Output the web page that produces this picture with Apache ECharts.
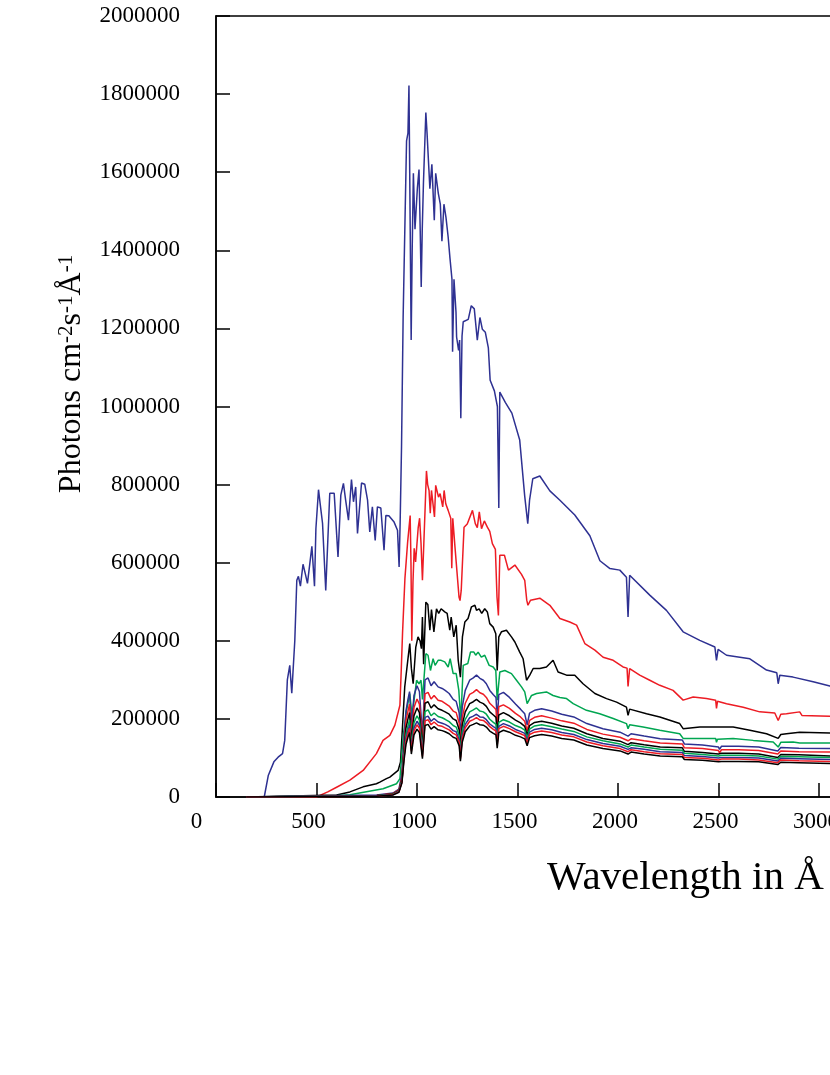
<!DOCTYPE html>
<html>
<head>
<meta charset="utf-8">
<title>Photon flux spectra</title>
<script src="https://cdn.jsdelivr.net/npm/echarts@6/dist/echarts.min.js"></script>
<style>
  html, body { margin: 0; padding: 0; background: #fff; }
  #chart { width: 830px; height: 1075px; }
</style>
</head>
<body>
<div id="chart"></div>
<script>
/* spectra: wavelength in Angstrom, photons cm^-2 s^-1 A^-1 */

var wlBlue1 = [150, 240, 260, 288, 309, 331, 342, 355, 367, 377, 392, 402, 410, 420, 433, 445, 455, 477, 490, 497, 510, 518, 530, 546, 566, 588, 607, 621, 634, 645, 659, 674, 684, 695, 704, 724, 740, 754, 765, 778, 792, 803, 820, 836, 845, 860, 886, 903, 911, 916, 923, 931, 941, 948, 955, 960, 966, 971, 976, 982, 990, 1002, 1010, 1016, 1021, 1026, 1032, 1044, 1050, 1054, 1064, 1074, 1086, 1093, 1106, 1116, 1124, 1134, 1144, 1155, 1164, 1174, 1177, 1184, 1194, 1197, 1207, 1212, 1218, 1224, 1230, 1255, 1270, 1285, 1300, 1313, 1325, 1340, 1355, 1364, 1385, 1400, 1407, 1412, 1440, 1472, 1511, 1536, 1551, 1560, 1576, 1611, 1661, 1711, 1785, 1860, 1910, 1960, 2009, 2042, 2050, 2058, 2158, 2241, 2324, 2407, 2482, 2490, 2498, 2540, 2656, 2739, 2790, 2797, 2805, 2871, 2971, 3054, 3500, 4000];
var fluxBlue1 = [0, 0, 55000, 90000, 102000, 111000, 145000, 300000, 337000, 266000, 400000, 555000, 565000, 540000, 596000, 570000, 547000, 642000, 540000, 687000, 787000, 752000, 701000, 529000, 778000, 778000, 615000, 773000, 803000, 760000, 709000, 813000, 756000, 794000, 675000, 804000, 801000, 760000, 679000, 743000, 657000, 743000, 740000, 632000, 721000, 720000, 704000, 683000, 589000, 700000, 896000, 1228000, 1496000, 1680000, 1700000, 1822000, 1822000, 1170000, 1400000, 1597000, 1454000, 1560000, 1607000, 1450000, 1306000, 1450000, 1571000, 1753000, 1700000, 1700000, 1558000, 1620000, 1477000, 1597000, 1546000, 1518000, 1423000, 1518000, 1485000, 1434000, 1380000, 1326000, 1140000, 1326000, 1242000, 1178000, 1144000, 1170000, 970000, 1180000, 1217000, 1223000, 1258000, 1250000, 1170000, 1228000, 1198000, 1190000, 1150000, 1067000, 1040000, 1000000, 740000, 1037000, 1010000, 983000, 914000, 770000, 700000, 760000, 815000, 822000, 784000, 760000, 722000, 669000, 605000, 585000, 581000, 563000, 461000, 568000, 517000, 478000, 423000, 401000, 384000, 350000, 378000, 363000, 354000, 325000, 318000, 290000, 312000, 307000, 295000, 284000, 250000, 220000];

var wlRed1 = [150, 250, 500, 556, 600, 666, 732, 798, 831, 865, 890, 915, 922, 928, 940, 953, 966, 970, 974, 980, 986, 993, 1006, 1013, 1020, 1027, 1034, 1040, 1047, 1053, 1060, 1066, 1072, 1087, 1093, 1107, 1115, 1128, 1135, 1143, 1155, 1168, 1173, 1178, 1189, 1198, 1209, 1214, 1220, 1234, 1250, 1276, 1290, 1300, 1310, 1321, 1335, 1350, 1362, 1375, 1390, 1398, 1405, 1412, 1435, 1455, 1487, 1520, 1536, 1546, 1552, 1565, 1611, 1661, 1711, 1760, 1794, 1835, 1885, 1926, 1976, 2025, 2045, 2050, 2058, 2108, 2158, 2208, 2274, 2324, 2374, 2440, 2486, 2490, 2495, 2540, 2623, 2705, 2780, 2797, 2810, 2838, 2904, 2915, 3054, 3500, 4000];
var fluxRed1 = [0, 0, 0, 13000, 25000, 43000, 68000, 111000, 145000, 158000, 184000, 235000, 330000, 419000, 560000, 650000, 721000, 600000, 400000, 550000, 637000, 602000, 690000, 714000, 650000, 555000, 650000, 734000, 835000, 800000, 785000, 727000, 785000, 717000, 798000, 768000, 777000, 743000, 785000, 751000, 734000, 714000, 586000, 714000, 640000, 640000, 512000, 503000, 529000, 691000, 699000, 734000, 700000, 690000, 730000, 687000, 707000, 691000, 680000, 649000, 634000, 512000, 465000, 619000, 619000, 581000, 594000, 570000, 555000, 504000, 491000, 504000, 509000, 491000, 457000, 448000, 440000, 393000, 376000, 358000, 350000, 333000, 330000, 283000, 329000, 312000, 299000, 286000, 273000, 248000, 256000, 252000, 248000, 227000, 245000, 239000, 230000, 218000, 215000, 196000, 212000, 213000, 218000, 209000, 207000, 195000, 180000];

var wlBlack1 = [150, 600, 666, 732, 798, 815, 848, 865, 906, 918, 930, 939, 956, 964, 972, 981, 994, 1005, 1015, 1022, 1027, 1033, 1044, 1054, 1064, 1072, 1084, 1097, 1108, 1120, 1138, 1150, 1163, 1170, 1183, 1195, 1205, 1216, 1226, 1238, 1254, 1271, 1288, 1296, 1309, 1322, 1337, 1350, 1362, 1379, 1392, 1399, 1407, 1420, 1445, 1470, 1487, 1511, 1528, 1545, 1561, 1578, 1611, 1644, 1677, 1702, 1744, 1785, 1826, 1885, 1943, 1993, 2042, 2050, 2058, 2142, 2208, 2307, 2324, 2407, 2490, 2573, 2656, 2739, 2797, 2810, 2838, 2904, 3054, 3500, 4000];
var fluxBlack1 = [0, 5000, 13000, 26000, 34000, 38000, 47000, 51000, 68000, 90000, 200000, 282000, 358000, 393000, 330000, 290000, 384000, 410000, 400000, 380000, 461000, 340000, 499000, 493000, 427000, 480000, 423000, 482000, 470000, 482000, 474000, 470000, 427000, 461000, 410000, 440000, 350000, 307000, 410000, 448000, 457000, 487000, 491000, 478000, 482000, 470000, 482000, 474000, 444000, 435000, 418000, 324000, 410000, 423000, 427000, 410000, 397000, 371000, 354000, 299000, 312000, 329000, 329000, 333000, 350000, 320000, 312000, 312000, 290000, 265000, 252000, 243000, 230000, 209000, 225000, 213000, 205000, 188000, 175000, 179000, 179000, 179000, 171000, 162000, 150000, 160000, 162000, 166000, 164000, 155000, 145000];

var wlGreen1 = [150, 600, 666, 831, 898, 915, 931, 948, 964, 975, 981, 998, 1010, 1020, 1027, 1044, 1055, 1067, 1080, 1090, 1105, 1120, 1138, 1155, 1165, 1180, 1195, 1208, 1218, 1230, 1253, 1266, 1283, 1292, 1304, 1320, 1337, 1359, 1379, 1392, 1399, 1412, 1437, 1470, 1495, 1520, 1536, 1548, 1570, 1595, 1644, 1677, 1711, 1744, 1777, 1843, 1909, 1976, 2042, 2050, 2058, 2125, 2208, 2307, 2324, 2407, 2486, 2490, 2495, 2573, 2673, 2772, 2797, 2810, 2871, 2904, 3054, 3500, 4000];
var fluxGreen1 = [0, 3000, 6000, 21000, 34000, 47000, 154000, 222000, 265000, 210000, 230000, 299000, 290000, 299000, 250000, 367000, 363000, 324000, 354000, 337000, 350000, 350000, 346000, 333000, 354000, 316000, 316000, 273000, 196000, 337000, 342000, 371000, 371000, 363000, 371000, 358000, 363000, 337000, 333000, 324000, 248000, 320000, 324000, 316000, 299000, 282000, 269000, 239000, 260000, 265000, 269000, 260000, 255000, 252000, 239000, 222000, 213000, 201000, 188000, 175000, 185000, 179000, 171000, 162000, 150000, 150000, 150000, 140000, 148000, 150000, 145000, 141000, 128000, 140000, 141000, 138000, 138000, 132000, 125000];

// the seven lower curves share one wavelength grid
var wlLow = [150, 800, 880, 910, 925, 935, 945, 955, 963, 972, 985, 1000, 1012, 1027, 1040, 1055, 1070, 1085, 1105, 1125, 1140, 1160, 1180, 1195, 1210, 1216, 1225, 1240, 1262, 1280, 1296, 1313, 1330, 1345, 1362, 1380, 1393, 1399, 1407, 1430, 1460, 1490, 1515, 1536, 1548, 1560, 1585, 1620, 1670, 1720, 1780, 1845, 1925, 2010, 2050, 2065, 2130, 2210, 2320, 2330, 2420, 2500, 2505, 2515, 2600, 2700, 2795, 2810, 2900, 3054, 3500, 4000];
var fluxBlue2 = [0, 5000, 10000, 20000, 60000, 150000, 220000, 250000, 270000, 180000, 260000, 285000, 270000, 160000, 300000, 305000, 285000, 295000, 282000, 278000, 273000, 265000, 250000, 245000, 215000, 150000, 230000, 273000, 299000, 305000, 312000, 304000, 299000, 290000, 273000, 262000, 255000, 200000, 262000, 268000, 255000, 238000, 225000, 213000, 185000, 215000, 222000, 226000, 220000, 212000, 205000, 188000, 175000, 166000, 156000, 162000, 156000, 149000, 146000, 136000, 133000, 128000, 122000, 130000, 130000, 128000, 118000, 127000, 125000, 124000, 118000, 112000];
var fluxRed2 = [0, 4000, 9000, 18000, 50000, 130000, 195000, 220000, 238000, 158000, 229000, 251000, 238000, 141000, 264000, 268000, 251000, 260000, 248000, 245000, 240000, 233000, 220000, 216000, 189000, 132000, 202000, 240000, 263000, 268000, 275000, 267000, 263000, 255000, 240000, 231000, 224000, 176000, 231000, 236000, 227000, 214000, 205000, 194000, 169000, 196000, 204000, 208000, 202000, 195000, 189000, 173000, 161000, 153000, 144000, 149000, 144000, 138000, 136000, 126000, 124000, 119000, 113000, 121000, 121000, 119000, 110000, 118000, 116000, 115000, 110000, 104000];
var fluxBlack2 = [0, 4000, 8000, 16000, 45000, 118000, 176000, 200000, 216000, 144000, 208000, 228000, 216000, 128000, 240000, 244000, 228000, 236000, 226000, 222000, 218000, 212000, 200000, 196000, 172000, 120000, 184000, 218000, 239000, 244000, 250000, 243000, 239000, 232000, 218000, 210000, 204000, 160000, 210000, 216000, 208000, 197000, 190000, 181000, 158000, 183000, 191000, 194000, 189000, 182000, 176000, 162000, 150000, 143000, 134000, 139000, 134000, 128000, 126000, 117000, 114000, 110000, 105000, 112000, 112000, 110000, 101000, 109000, 108000, 105000, 101000, 96000];
var fluxGreen2 = [0, 3000, 7000, 15000, 42000, 108000, 160000, 182000, 197000, 131000, 190000, 208000, 197000, 117000, 219000, 223000, 208000, 215000, 206000, 203000, 199000, 193000, 183000, 179000, 157000, 110000, 168000, 199000, 218000, 223000, 228000, 220000, 218000, 212000, 199000, 191000, 186000, 146000, 191000, 198000, 192000, 183000, 178000, 171000, 150000, 174000, 182000, 185000, 180000, 174000, 168000, 154000, 144000, 136000, 128000, 133000, 128000, 122000, 120000, 112000, 109000, 105000, 100000, 107000, 107000, 105000, 97000, 104000, 103000, 101000, 97000, 92000];
var fluxBlue3 = [0, 3000, 6000, 14000, 40000, 102000, 150000, 170000, 184000, 122000, 177000, 194000, 184000, 109000, 204000, 207000, 194000, 201000, 192000, 189000, 186000, 180000, 170000, 167000, 146000, 102000, 156000, 186000, 203000, 207000, 212000, 205000, 204000, 198000, 187000, 180000, 176000, 138000, 181000, 188000, 182000, 173000, 168000, 163000, 143000, 166000, 173000, 176000, 172000, 165000, 160000, 147000, 137000, 130000, 122000, 126000, 122000, 116000, 114000, 106000, 104000, 100000, 95000, 101000, 101000, 100000, 92000, 99000, 98000, 96000, 92000, 87000];
var fluxRed3 = [0, 2000, 6000, 13000, 38000, 98000, 143000, 163000, 176000, 117000, 169000, 185000, 176000, 104000, 195000, 198000, 185000, 192000, 183000, 181000, 177000, 172000, 163000, 159000, 140000, 98000, 150000, 177000, 194000, 198000, 203000, 197000, 196000, 190000, 180000, 173000, 169000, 133000, 175000, 181000, 175000, 167000, 162000, 157000, 138000, 160000, 166000, 169000, 165000, 159000, 154000, 141000, 131000, 124000, 116000, 121000, 116000, 111000, 109000, 101000, 99000, 95000, 91000, 97000, 97000, 95000, 88000, 95000, 93000, 91000, 88000, 83000];
var fluxBlack3 = [0, 2000, 5000, 12000, 36000, 92000, 134000, 153000, 165000, 110000, 159000, 174000, 165000, 98000, 183000, 186000, 174000, 180000, 172000, 170000, 167000, 162000, 153000, 150000, 131000, 92000, 140000, 167000, 182000, 186000, 190000, 185000, 184000, 179000, 169000, 163000, 159000, 125000, 165000, 171000, 166000, 158000, 154000, 149000, 131000, 152000, 157000, 160000, 156000, 150000, 146000, 133000, 124000, 118000, 110000, 115000, 110000, 105000, 103000, 96000, 94000, 90000, 86000, 91000, 91000, 90000, 83000, 89000, 88000, 86000, 83000, 79000];

var BLUE = '#2e3192', RED = '#ed1c24', BLACK = '#000000', GREEN = '#00a651';
var FONT = 'Liberation Serif';

var curves = [
    [wlBlue1, fluxBlue1, BLUE],
    [wlRed1, fluxRed1, RED],
    [wlBlack1, fluxBlack1, BLACK],
    [wlGreen1, fluxGreen1, GREEN],
    [wlLow, fluxBlue2, BLUE],
    [wlLow, fluxRed2, RED],
    [wlLow, fluxBlack2, BLACK],
    [wlLow, fluxGreen2, GREEN],
    [wlLow, fluxBlue3, BLUE],
    [wlLow, fluxRed3, RED],
    [wlLow, fluxBlack3, BLACK]
];

function pairs(wl, flux) {
    var out = [];
    for (var i = 0; i < wl.length; i++) {
        out.push([wl[i], flux[i]]);
    }
    return out;
}

var seriesList = [];
for (var k = 0; k < curves.length; k++) {
    seriesList.push({
        type: 'line',
        data: pairs(curves[k][0], curves[k][1]),
        showSymbol: false,
        symbol: 'none',
        lineStyle: { color: curves[k][2], width: 1.5 },
        itemStyle: { color: curves[k][2] },
        z: 2
    });
}

var labelText = { fontSize: 23, fontFamily: FONT, color: '#000' };

var myChart = echarts.init(document.getElementById('chart'));
myChart.setOption({
    animation: false,
    backgroundColor: '#fff',
    grid: {
        left: 216, top: 16, width: 804, height: 781,
        outerBoundsMode: 'none', containLabel: false,
        show: true, borderColor: '#000', borderWidth: 1.5, backgroundColor: 'transparent'
    },
    xAxis: {
        type: 'value', min: 0, max: 4000, interval: 500,
        axisLine: { lineStyle: { color: '#000', width: 1.5 } },
        axisTick: { inside: true, length: 14, lineStyle: { color: '#000', width: 1.5 } },
        splitLine: { show: false },
        axisLabel: {
            margin: 13,
            fontSize: 23, fontFamily: FONT, color: '#000',
            formatter: function (v) {
                if (v === 0) return '{a|0}';
                if (v === 500) return '{b|500}';
                return '{c|' + String(v) + '}';
            },
            rich: {
                a: Object.assign({ padding: [0, 39, 0, 0] }, labelText),
                b: Object.assign({ padding: [0, 16, 0, 0] }, labelText),
                c: Object.assign({ padding: [0, 6, 0, 0] }, labelText)
            }
        }
    },
    yAxis: {
        type: 'value', min: 0, max: 2000000, interval: 200000,
        axisLine: { lineStyle: { color: '#000', width: 1.5 } },
        axisTick: { inside: true, length: 14, lineStyle: { color: '#000', width: 1.5 } },
        splitLine: { show: false },
        axisLabel: {
            margin: 36, showMinLabel: true, showMaxLabel: true,
            fontSize: 23, fontFamily: FONT, color: '#000',
            formatter: function (v) { return String(v); }
        }
    },
    graphic: [
        {
            type: 'text', left: 547, top: 858,
            style: { text: 'Wavelength in Å', font: '41px "Liberation Serif"', fill: '#000' }
        },
        {
            type: 'text', x: 72, y: 374, rotation: Math.PI / 2,
            style: {
                text: '{m|Photons cm}{s|-2}{m|s}{s|-1}{m|Å}{s|-1}',
                align: 'center', verticalAlign: 'middle',
                rich: {
                    m: { fontSize: 32, fontFamily: FONT, lineHeight: 32, fill: '#000' },
                    s: { fontSize: 21, fontFamily: FONT, lineHeight: 10, verticalAlign: 'top', fill: '#000' }
                }
            }
        }
    ],
    series: seriesList
});
</script>
</body>
</html>
